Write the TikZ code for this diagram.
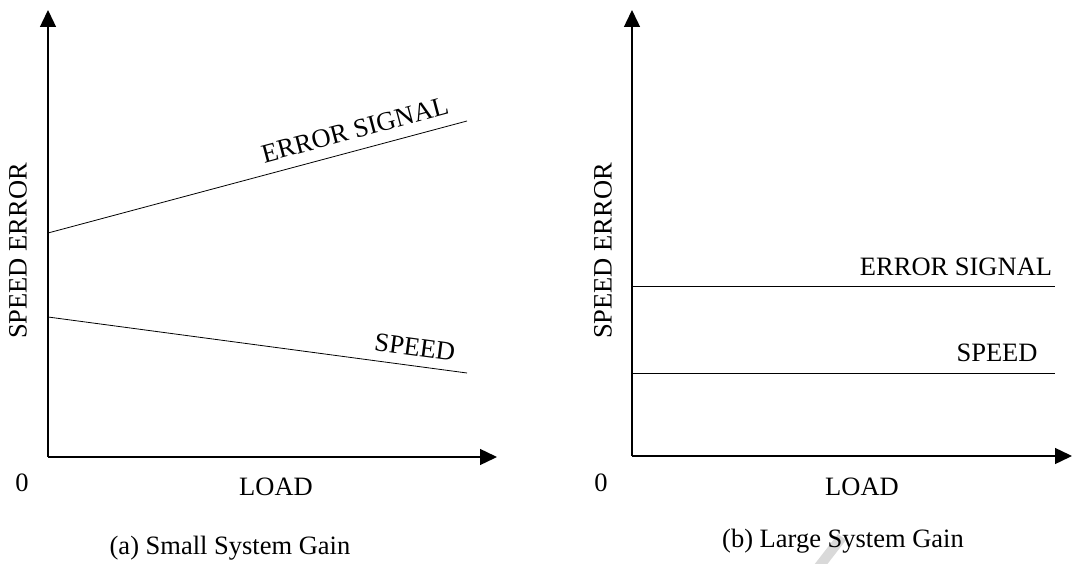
\documentclass[tikz,border=0pt]{standalone}
\usepackage{fontspec}
\setmainfont{Liberation Serif}
\usetikzlibrary{arrows.meta}
\begin{document}
\begin{tikzpicture}[x=1pt,y=-1pt,
  axis/.style={line width=1.4pt,-{Triangle[length=17pt,width=16pt]}},
  curve/.style={line width=0.8pt},
  lbl/.style={font=\fontsize{26.5}{30}\selectfont, inner sep=2pt},
  captext/.style={font=\fontsize{26.5}{30}\selectfont}]
\useasboundingbox (0,0) rectangle (1072,564);

% faint grey stroke behind the right caption
\draw[gray!30, line width=10pt] (818,568) -- (842,537);

% ---------- (a) small system gain ----------
\coordinate (oa) at (48,457);
\coordinate (ya) at (48,10);
\coordinate (xa) at (497,457);
\draw[axis] (oa) -- (ya);
\draw[axis] (oa) -- (xa);

\coordinate (ea1) at (48,233);
\coordinate (ea2) at (467,121);
\coordinate (sa1) at (48,317);
\coordinate (sa2) at (467,373);
\draw[curve] (ea1) -- (ea2) node[lbl, pos=0.745, sloped, above=9pt] (eal) {ERROR SIGNAL};
\draw[curve] (sa1) -- (sa2) node[lbl, pos=0.87, sloped, above=7pt] (sal) {SPEED};

\node[lbl, rotate=90] (yla) at (18,251) {SPEED ERROR};
\node[lbl] (za) at (22,483) {0};
\node[lbl] (la) at (276,487) {LOAD};
\node[captext] (ca) at (230,548) {(a) Small System Gain};

% ---------- (b) large system gain ----------
\coordinate (ob) at (632,456);
\coordinate (yb) at (632,10);
\coordinate (xb) at (1072,456);
\draw[axis] (ob) -- (yb);
\draw[axis] (ob) -- (xb);

\coordinate (eb1) at (632,286);
\coordinate (eb2) at (1055,286);
\coordinate (sb1) at (632,373);
\coordinate (sb2) at (1055,373);
\draw[curve] (eb1) -- (eb2) node[lbl, pos=0.766, above=8pt] (ebl) {ERROR SIGNAL};
\draw[curve] (sb1) -- (sb2) node[lbl, pos=0.863, above=9pt] (sbl) {SPEED};

\node[lbl, rotate=90] (ylb) at (603,251) {SPEED ERROR};
\node[lbl] (zb) at (601,483) {0};
\node[lbl] (lb) at (862,487) {LOAD};
\node[captext] (cb) at (843,541) {(b) Large System Gain};
\end{tikzpicture}
\end{document}
